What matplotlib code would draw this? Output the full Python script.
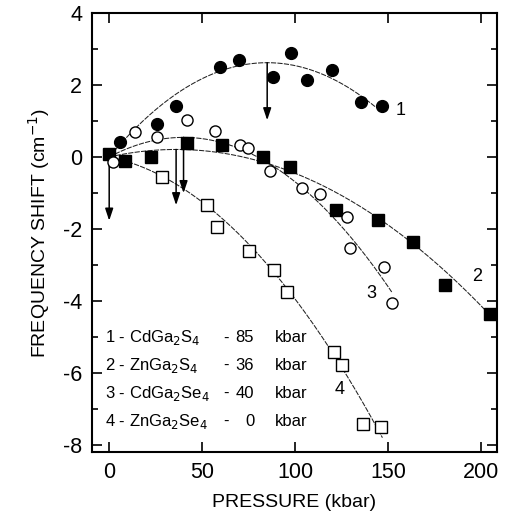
import numpy as np
import matplotlib
matplotlib.use("Agg")
import matplotlib.pyplot as plt
from matplotlib.ticker import MultipleLocator

plt.rcParams["font.family"] = ["Liberation Sans", "DejaVu Sans"]
plt.rcParams["axes.unicode_minus"] = False

# measured shifts, pressure in kbar, shift in cm^-1
p1 = [5.9, 25.6, 36.0, 59.7, 70.0, 88.0, 97.7, 106.6, 119.7, 135.3, 146.6]
s1 = [0.43, 0.92, 1.42, 2.51, 2.69, 2.21, 2.90, 2.14, 2.43, 1.53, 1.42]

p2 = [0.0, 8.6, 22.4, 42.1, 60.6, 83.0, 97.3, 122.0, 144.8, 163.6, 180.6, 204.8]
s2 = [0.08, -0.10, 0.01, 0.40, 0.33, 0.01, -0.27, -1.47, -1.75, -2.35, -3.56, -4.36]

p3 = [2.0, 14.0, 25.6, 41.8, 57.0, 70.4, 74.9, 86.6, 103.6, 113.4, 127.8, 129.6, 147.8, 152.0]
s3 = [-0.13, 0.70, 0.55, 1.03, 0.72, 0.33, 0.24, -0.38, -0.87, -1.04, -1.66, -2.54, -3.05, -4.05]

p4 = [28.3, 52.5, 57.9, 75.4, 88.7, 95.5, 121.0, 125.1, 136.4, 146.2]
s4 = [-0.55, -1.33, -1.94, -2.60, -3.14, -3.74, -5.41, -5.78, -7.42, -7.51]

# quadratic fits: shift = a*p + b*p^2, drawn up to p_end
fit_a = [0.06165, 0.01162, 0.0273, -0.01054]
fit_b = [-3.626e-4, -1.614e-4, -3.42e-4, -2.893e-4]
fit_end = [143, 206, 152, 147]

# pressure of the shift maximum for each compound
names = ["CdGa$_2$S$_4$", "ZnGa$_2$S$_4$", "CdGa$_2$Se$_4$", "ZnGa$_2$Se$_4$"]
p_max = [85, 36, 40, 0]
arrow_len = [1.6, 1.55, 1.55, 1.85]

fig = plt.figure(figsize=(5.05, 5.22), dpi=100)
ax = fig.add_axes([0.182, 0.134, 0.802, 0.841])

for a, b, pe in zip(fit_a, fit_b, fit_end):
    x = np.linspace(0, pe, 200)
    ax.plot(x, a * x + b * x ** 2, color="#222222", lw=0.75,
            ls=(0, (5, 1.2)), zorder=1)

ax.plot(p1, s1, "o", ms=8.5, mfc="black", mec="black", zorder=3)
ax.plot(p2, s2, "s", ms=8, mfc="black", mec="black", zorder=3)
ax.plot(p3, s3, "o", ms=8, mfc="white", mec="black", mew=1.0, zorder=3)
ax.plot(p4, s4, "s", ms=8, mfc="white", mec="black", mew=1.0, zorder=3)

# arrows from each fitted curve at its maximum
for a, b, pm, dl in zip(fit_a, fit_b, p_max, arrow_len):
    y0 = a * pm + b * pm ** 2
    if pm == 0:
        y0 = 0.08
    ax.annotate("", xy=(pm, y0 - dl), xytext=(pm, y0),
                arrowprops=dict(arrowstyle="-|>,head_length=0.6,head_width=0.2",
                                color="black", lw=1.1,
                                mutation_scale=12, shrinkA=0, shrinkB=0),
                zorder=2)

# curve numbers
ax.text(157, 1.3, "1", fontsize=13, ha="center", va="center")
ax.text(197.7, -3.32, "2", fontsize=13, ha="center", va="center")
ax.text(141.2, -3.8, "3", fontsize=13, ha="center", va="center")
ax.text(124, -6.45, "4", fontsize=13, ha="center", va="center")

# legend block
for i, (nm, pm) in enumerate(zip(names, p_max)):
    y = -5.03 - 0.77 * i
    ax.text(-2.3, y, f"{i + 1} - {nm}", fontsize=12, ha="left", va="center")
    ax.text(62.7, y, "-", fontsize=12, ha="center", va="center")
    ax.text(78, y, f"{pm}", fontsize=12, ha="right", va="center")
    ax.text(89, y, "kbar", fontsize=12, ha="left", va="center")

ax.set_xlim(-9.3, 208.6)
ax.set_ylim(-8.2, 4.0)
ax.xaxis.set_major_locator(MultipleLocator(50))
ax.yaxis.set_major_locator(MultipleLocator(2))
ax.yaxis.set_minor_locator(MultipleLocator(1))
ax.tick_params(which="both", direction="in", top=True, right=True,
               labelsize=15.5, width=1.2)
ax.tick_params(which="major", length=7, pad=7)
ax.tick_params(which="minor", length=4)
for sp in ax.spines.values():
    sp.set_linewidth(1.5)

ax.set_xlabel("PRESSURE (kbar)", fontsize=14, labelpad=8)
ax.set_ylabel("FREQUENCY SHIFT (cm$^{-1}$)", fontsize=14, labelpad=8)

fig.savefig("out.png", dpi=100)
